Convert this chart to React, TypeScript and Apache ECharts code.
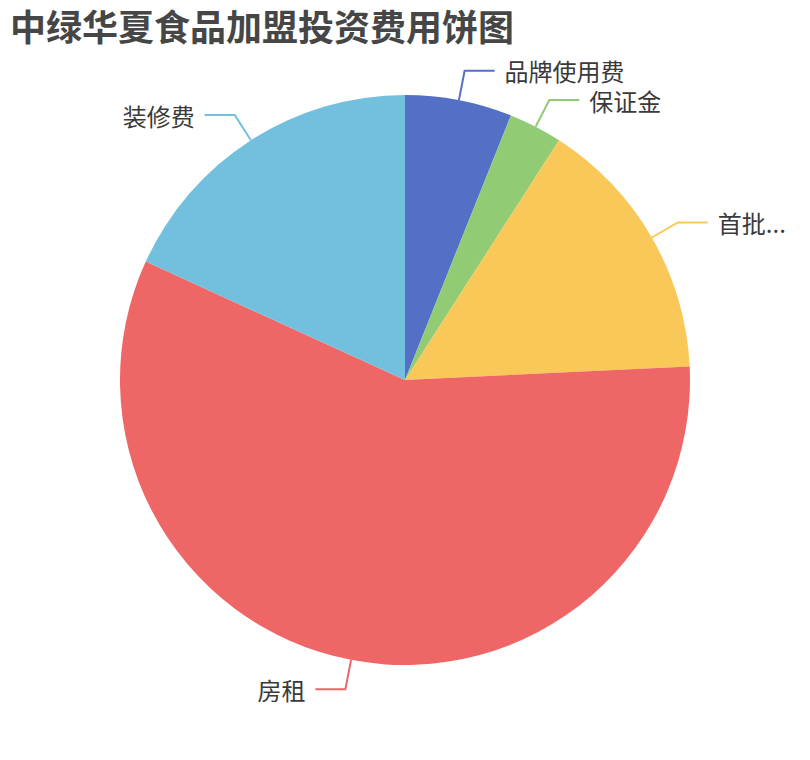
import { useEffect, useRef } from "react";
import * as echarts from "echarts";

// 费用项目（单位：万元）
const itemNames = ["品牌使用费", "保证金", "首批进货费", "房租", "装修费"];
const itemValues = [2, 1, 5, 19, 6];
const itemColors = ["#5470c6", "#91cc75", "#fac858", "#ee6666", "#73c0de"];

const FONT = "'Noto Sans CJK SC', 'Noto Sans', sans-serif";

function App() {
  const chartRef = useRef<HTMLDivElement>(null);

  useEffect(() => {
    if (!chartRef.current) return;
    const chart = echarts.init(chartRef.current, undefined, { renderer: "svg" });

    const option: echarts.EChartsOption = {
      animation: false,
      color: itemColors,
      title: {
        text: "中绿华夏食品加盟投资费用饼图",
        left: 5,
        top: 2,
        textStyle: {
          color: "#464646",
          fontSize: 36,
          fontWeight: "bold",
          fontFamily: FONT,
        },
      },
      series: [
        {
          type: "pie",
          center: ["50%", "50%"],
          radius: "75%",
          startAngle: 90,
          clockwise: true,
          data: itemNames.map((name, i) => ({ name, value: itemValues[i] })),
          itemStyle: { borderWidth: 0 },
          label: {
            show: true,
            position: "outside",
            color: "#3a3a3a",
            fontSize: 24,
            fontFamily: FONT,
            distanceToLabelLine: 10,
          },
          labelLine: {
            show: true,
            length: 30,
            length2: 30,
            smooth: false,
            lineStyle: { width: 2 },
          },
        },
      ],
    };

    chart.setOption(option);
    return () => {
      chart.dispose();
    };
  }, []);

  return (
    <div
      ref={chartRef}
      style={{
        position: "absolute",
        left: 0,
        top: 0,
        width: 810,
        height: 760,
        background: "#fff",
      }}
    />
  );
}

export default App;
